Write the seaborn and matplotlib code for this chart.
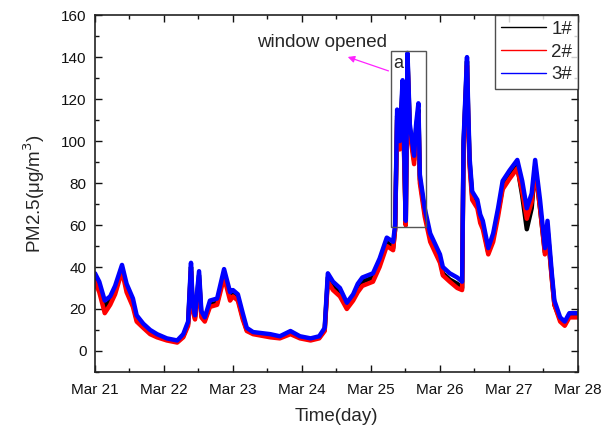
"""PM2.5 time series at three monitoring points, Mar 21 - Mar 28.

Produces:
  out.png
"""
from __future__ import annotations

import sys

import matplotlib
matplotlib.use("Agg")
import matplotlib.dates as mdates
import matplotlib.pyplot as plt
import pandas as pd
import seaborn as sns
from matplotlib.lines import Line2D
from matplotlib.patches import Rectangle
from matplotlib.ticker import MultipleLocator

START = "2016-03-21"

# hours since Mar 21 00:00
HOURS = [0, 1.5, 3.4, 5.3, 7.0, 9.4, 11.0, 13.2, 14.5, 16.8, 19.2, 21.6, 25.0,
         28.6, 30.7, 32.4, 33.4, 34.0, 34.8, 36.2, 37.0, 38.2, 40.0, 42.5,
         44.9, 47.0, 48.0, 49.7, 51.4, 52.8, 55.0, 61.0, 64.3, 68.0, 71.3,
         75.0, 78.0, 79.9, 81.0, 82.8, 85.2, 87.6, 89.8, 91.4, 93.0, 96.7,
         99.0, 101.5, 103.7, 104.4, 105.1, 106.0, 107.0, 107.6, 108.1, 108.7,
         109.5, 111.0, 111.7, 112.5, 113.0, 114.7, 116.6, 120.0, 121.0, 123.4,
         126.0, 127.7, 128.2, 129.4, 129.8, 130.3, 131.2, 133.0, 134.0, 134.9,
         136.8, 138.5, 140.2, 141.8, 144.2, 146.9, 148.6, 150.2, 151.9, 153.1,
         154.8, 156.5, 157.4, 158.9, 159.8, 161.8, 163.4, 165.0, 168.0]

PM_1 = [35, 30, 21, 24, 29, 39, 30, 23, 15, 12, 9, 7, 5.5, 4.5, 7, 13, 40, 20,
        16, 36, 17, 15, 22, 23, 37, 26, 27, 25, 16, 10, 8.5, 7, 6.5, 9, 6.5,
        5.5, 6.5, 10, 35, 31, 28, 21, 25, 30, 33, 35, 42, 52, 49, 58, 112, 98,
        126, 90, 60, 140, 106, 91, 106, 115, 82, 66, 54, 44, 37, 34, 32, 30,
        98, 138, 113, 90, 74, 70, 63, 60, 47, 54, 66, 78, 83, 88, 74, 58, 68,
        88, 68, 47, 58, 35, 22, 15, 13, 17, 17]

PM_2 = [33, 28, 18, 22, 27, 38, 28, 21, 14, 11, 8, 6.5, 5, 4, 6.5, 12, 38, 19,
        15, 34, 16, 14, 21, 22, 35, 24, 26, 24, 15, 9.5, 8, 6.5, 6, 8, 6, 5,
        6, 9.5, 33, 29, 26, 20, 24, 28, 31, 33, 40, 50, 48, 58, 110, 96, 124,
        88, 60, 138, 104, 89, 104, 113, 80, 64, 52, 42, 36, 33, 30, 29, 96,
        136, 111, 88, 72, 68, 61, 58, 46, 52, 64, 77, 82, 87, 76, 63, 71, 87,
        68, 46, 58, 34, 22, 14, 12, 16, 16]

PM_3 = [37, 33, 24, 26, 31, 41, 32, 25, 17, 13, 10, 8, 6, 5, 8, 14, 42, 22,
        17, 38, 19, 16, 24, 25, 39, 28, 29, 27, 18, 11, 9, 8, 7, 9.5, 7, 6, 7,
        11, 37, 33, 30, 23, 27, 32, 35, 37, 44, 54, 52, 60, 115, 100, 129, 92,
        62, 142, 108, 93, 108, 118, 84, 68, 56, 46, 40, 37, 35, 33, 100, 140,
        116, 92, 76, 72, 65, 62, 49, 56, 68, 81, 86, 91, 81, 68, 75, 91, 72,
        49, 62, 37, 24, 16, 14, 18, 18]

SERIES = ["1#", "2#", "3#"]
COLORS = ["black", "red", "blue"]

# window-opened box (hours, value)
BOX_HOURS = (103.0, 115.2)
BOX_VALUES = (59, 143)


def _frame() -> pd.DataFrame:
    t0 = pd.Timestamp(START)
    times = [t0 + pd.Timedelta(hours=h) for h in HOURS]
    parts = []
    for name, vals in zip(SERIES, [PM_1, PM_2, PM_3]):
        parts.append(pd.DataFrame({"time": times, "pm": vals, "site": name}))
    return pd.concat(parts, ignore_index=True)


def main() -> int:
    sns.set_style("ticks")
    plt.rcParams["font.family"] = ["Liberation Sans", "DejaVu Sans"]

    df = _frame()
    t0 = pd.Timestamp(START)

    fig = plt.figure(figsize=(6.03, 4.32), dpi=100)
    ax = fig.add_axes([0.1575, 0.139, 0.801, 0.826])

    for name, color in zip(SERIES, COLORS):
        sns.lineplot(data=df[df["site"] == name], x="time", y="pm",
                     color=color, lw=3.2, ax=ax, legend=False)

    ax.set_xlim(t0, t0 + pd.Timedelta(days=7))
    ax.set_ylim(-10, 160)
    ax.xaxis.set_major_locator(mdates.DayLocator())
    ax.xaxis.set_minor_locator(mdates.HourLocator(byhour=[12]))
    ax.xaxis.set_major_formatter(mdates.DateFormatter("%b %d"))
    ax.yaxis.set_major_locator(MultipleLocator(20))
    ax.yaxis.set_minor_locator(MultipleLocator(10))
    ax.tick_params(which="both", direction="in", top=True, right=True,
                   labelsize=11, colors="#111111", width=1)
    ax.tick_params(which="major", length=5)
    ax.tick_params(which="minor", length=3)
    ax.tick_params(axis="x", which="major", pad=8)
    ax.tick_params(axis="y", which="major", pad=6)
    for sp in ax.spines.values():
        sp.set_linewidth(1.2)
        sp.set_color("#222222")

    ax.set_xlabel("Time(day)", fontsize=13.5, labelpad=8)
    ax.set_ylabel("PM2.5(μg/m$^3$)", fontsize=13.5, labelpad=10)

    # window-opened marker
    bx0 = mdates.date2num(t0 + pd.Timedelta(hours=BOX_HOURS[0]))
    bx1 = mdates.date2num(t0 + pd.Timedelta(hours=BOX_HOURS[1]))
    ax.add_patch(Rectangle((bx0, BOX_VALUES[0]), bx1 - bx0,
                           BOX_VALUES[1] - BOX_VALUES[0], fill=False,
                           edgecolor="#555555", lw=1.0, zorder=5))
    ax.text(bx0 + 0.03, 137, "a", fontsize=13, ha="left", va="center")
    tip = mdates.date2num(t0 + pd.Timedelta(hours=87.0))
    ax.annotate("", xy=(tip, 140.5), xytext=(bx0, 133),
                arrowprops=dict(arrowstyle="-|>", color="#ff22ff", lw=0.9,
                                mutation_scale=10))
    txt_x = mdates.date2num(t0 + pd.Timedelta(hours=79.0))
    ax.text(txt_x, 147, "window opened", fontsize=13.5, ha="center",
            va="center")

    handles = [Line2D([], [], color=c, lw=1) for c in COLORS]
    leg = ax.legend(handles, SERIES, loc="upper right", fontsize=13.5,
                    frameon=True, fancybox=False, borderaxespad=0,
                    handlelength=2.4, handletextpad=0.3, labelspacing=0.3,
                    borderpad=0.3)
    leg.get_frame().set_edgecolor("#222222")
    leg.get_frame().set_linewidth(1)

    fig.savefig("out.png", dpi=100)
    plt.close(fig)
    return 0


if __name__ == "__main__":
    sys.exit(main())
